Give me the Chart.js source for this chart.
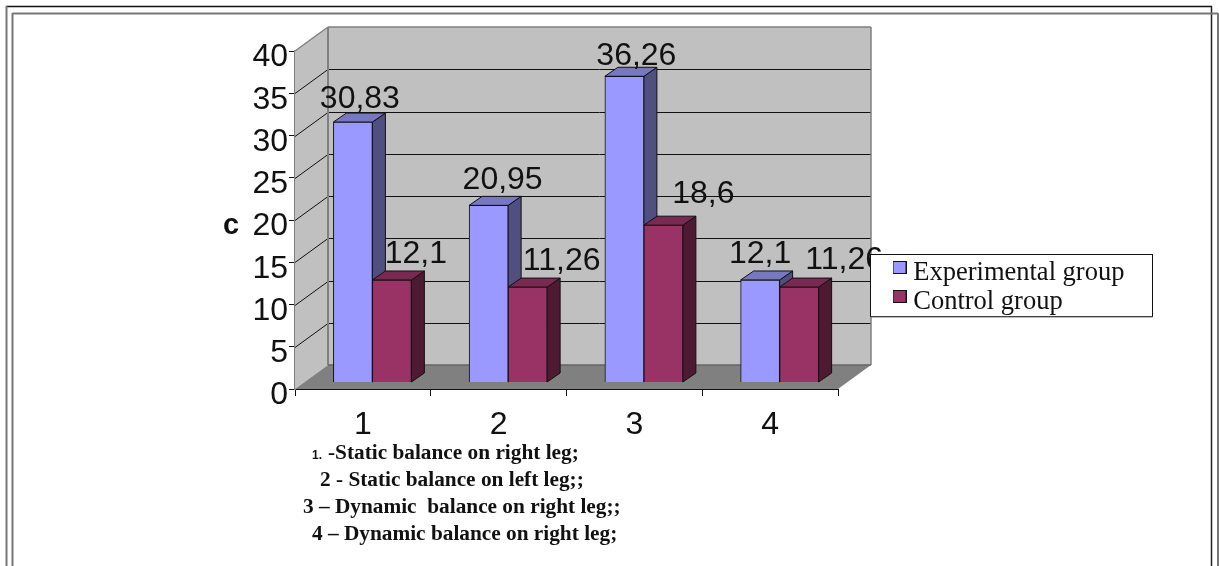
<!DOCTYPE html>
<html><head><meta charset="utf-8">
<style>html,body{margin:0;padding:0;background:#fff}#w{position:relative;width:1219px;height:566px}</style>
<script src="https://cdn.jsdelivr.net/npm/chart.js@4/dist/chart.umd.js"></script>
</head><body><div id="w"><canvas id="c" width="1219" height="566"></canvas></div>
<script>
const categories = ['1','2','3','4'];
const experimental = [30.83, 20.95, 36.26, 12.1];
const control = [12.1, 11.26, 18.6, 11.26];
const seriesNames = ['Experimental group','Control group'];
const yAxisTitle = 'c';
const noteLines = ['-Static balance on right leg;','2 - Static balance on left leg;;','3 – Dynamic  balance on right leg;;','4 – Dynamic balance on right leg;'];
const noteMarker = '1.';

const SANS='"Liberation Sans",Arial,sans-serif', SERIF='"Liberation Serif","Times New Roman",serif';
const nudge=[[[7,-5],[14,-7],[12,-2],[0,-8]],[[24,-8],[34,-8],[40,-13],[45,-9]]];
const frontCol=['#9999ff','#993366'], sideCol=['#4f4f80','#4d1933'], topCol=['#7878c0','#7a2952'];
const WD=33, HD=24, BD=13, BH=9;

function poly(ctx,pts,fill,stroke,lw){ctx.beginPath();pts.forEach((p,i)=>i?ctx.lineTo(p[0],p[1]):ctx.moveTo(p[0],p[1]));ctx.closePath();
  if(fill){ctx.fillStyle=fill;ctx.fill()} if(stroke){ctx.strokeStyle=stroke;ctx.lineWidth=lw||1;ctx.stroke()}}
function line(ctx,a,b,c,d,col,lw){ctx.beginPath();ctx.moveTo(a,b);ctx.lineTo(c,d);ctx.strokeStyle=col;ctx.lineWidth=lw||1;ctx.stroke()}
const legendBox={l:870.5,t:254.5,r:1152.5,b:316.5};
function swatch(col){const s=document.createElement('canvas');s.width=14;s.height=24;const c=s.getContext('2d');
  c.fillStyle=col;c.fillRect(.5,.5,13,12);c.strokeStyle='#111';c.lineWidth=1;c.strokeRect(.5,.5,13,12);return s;}
const swatches=frontCol.map(swatch);

const scene={id:'scene',
 beforeDraw(ch){const c=ch.ctx;
  line(c,6,6.5,1212,6.5,'#111',1.5);line(c,6.5,6,6.5,566,'#777',2);line(c,1211.5,6,1211.5,566,'#222',1.5);
  line(c,12.5,13.5,1218,13.5,'#777',2);line(c,12.5,13,12.5,566,'#777',2);line(c,1218,13,1218,566,'#777',2);},
 afterLayout(ch){const g=ch.legend;if(!g)return;
  g.left=896.5;g.top=257.25;g.right=1150;g.bottom=345;g.width=g.right-g.left;g.height=g.bottom-g.top;},
 beforeDatasetsDraw(ch){const c=ch.ctx,X=ch.scales.x,Y=ch.scales.y;const L=X.left,R=X.right,b=Y.getPixelForValue(0),t=Y.getPixelForValue(40);
  poly(c,[[L,t],[L+WD,t-HD],[L+WD,b-HD],[L,b]],'#c0c0c0');
  poly(c,[[L+WD,t-HD],[R+WD,t-HD],[R+WD,b-HD],[L+WD,b-HD]],'#c0c0c0');
  poly(c,[[L,b],[R,b],[R+WD,b-HD],[L+WD,b-HD]],'#808080');
  Y.ticks.forEach(k=>{if(k.value===0||k.value===40)return;const y=Math.round(Y.getPixelForValue(k.value))+.5;
    line(c,L,y,L+WD,y-HD,'#111');line(c,L+WD,y-HD,R+WD,y-HD,'#111');});
  line(c,L,t,L+WD,t-HD,'#808080',1.5);line(c,L+WD,t-HD,R+WD,t-HD,'#808080',1.5);
  line(c,L+WD,t-HD,L+WD,b-HD,'#808080',2);line(c,R+WD,t-HD,R+WD,b-HD,'#808080',1.5);line(c,L+WD,b-HD,R+WD,b-HD,'#666',1.5);
  [0,1].forEach(d=>ch.getDatasetMeta(d).data.forEach(e=>{const l=e.x-e.width/2,r=e.x+e.width/2,T=e.y,B=e.base;
    poly(c,[[r,T],[r+BD,T-BH],[r+BD,B-BH],[r,B]],sideCol[d],'#111');
    poly(c,[[l,T],[l+BD,T-BH],[r+BD,T-BH],[r,T]],topCol[d],'#111');}));
 },
 afterDatasetsDraw(ch){const c=ch.ctx;c.save();
  c.fillStyle='#111';c.textAlign='center';c.textBaseline='alphabetic';c.font='32px '+SANS;
  [experimental,control].forEach((vals,d)=>{const m=ch.getDatasetMeta(d);vals.forEach((v,i)=>{const e=m.data[i];
    c.fillText(String(v).replace('.',','),e.x+nudge[d][i][0],e.y-BH+nudge[d][i][1]);});});
  c.font='bold 29px '+SANS;c.textAlign='left';c.fillText(yAxisTitle,223,234);
  c.font='bold 12px '+SANS;c.fillText(noteMarker,312,459);
  c.font='bold 21.3px '+SERIF;
  [328,320,303,312].forEach((x,i)=>c.fillText(noteLines[i],x,459+27*i));
  const B=legendBox;c.fillStyle='#fff';c.fillRect(B.l,B.t,B.r-B.l,B.b-B.t);c.strokeStyle='#111';c.lineWidth=1;c.strokeRect(B.l,B.t,B.r-B.l,B.b-B.t);
  line(c,B.l,B.b+.5,B.r,B.b+.5,'#777',1);
  c.restore();
  ch.legend._draw();
 }};

new Chart(document.getElementById('c'),{type:'bar',plugins:[scene],
 data:{labels:categories,datasets:[
  {label:seriesNames[0],data:experimental.map((v,i)=>({x:i+1,y:v})),backgroundColor:frontCol[0],borderColor:'#111',borderWidth:1,barThickness:39,xAxisID:'xBars',yAxisID:'yBars'},
  {label:seriesNames[1],data:control.map((v,i)=>({x:i+1,y:v})),backgroundColor:frontCol[1],borderColor:'#111',borderWidth:1,barThickness:39,xAxisID:'xBars',yAxisID:'yBars'}]},
 options:{responsive:false,animation:false,
  layout:{autoPadding:false,padding:{left:222,top:51,right:381,bottom:107}},
  plugins:{title:{display:false},tooltip:{enabled:false},
   legend:{display:true,position:'chartArea',align:'start',labels:{boxWidth:1,boxHeight:13,usePointStyle:true,padding:2.5,color:'#111',font:{family:SERIF,size:26.5},
     generateLabels(ch){return Chart.defaults.plugins.legend.labels.generateLabels(ch).map((it,i)=>Object.assign(it,{pointStyle:swatches[i]}))}}}},
  scales:{
   x:{type:'category',position:'bottom',labels:categories,offset:true,afterFit(s){s.height=70},
     grid:{offset:true,drawOnChartArea:false,drawTicks:true,tickLength:7,color:'#111'},border:{color:'#111',width:1},
     ticks:{color:'#111',padding:10,maxRotation:0,font:{family:SANS,size:32}}},
   y:{type:'linear',position:'left',min:0,max:40,afterFit(s){s.width=73},
     grid:{drawOnChartArea:false,drawTicks:true,tickLength:6,color:'#111'},border:{color:'#808080',width:2},
     ticks:{stepSize:5,color:'#111',padding:1,font:{family:SANS,size:32,lineHeight:'13px'},callback:v=>['',String(v)]}},
   xBars:{type:'linear',display:false,offset:false,min:0.43,max:4.43},
   yBars:{type:'linear',display:false,min:-0.83,max:39.26}
  }}});
</script></body></html>
